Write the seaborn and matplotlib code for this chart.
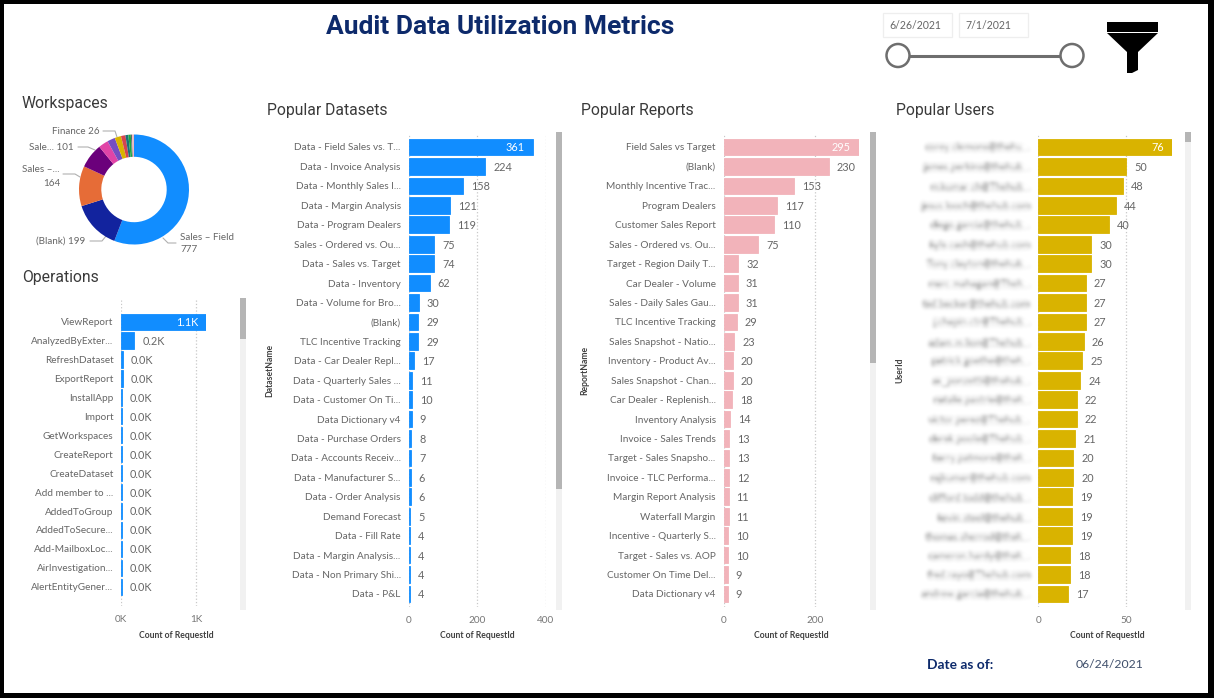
import numpy as np
import pandas as pd
import seaborn as sns
import matplotlib
matplotlib.use("Agg")
import matplotlib.pyplot as plt
from matplotlib.patches import Rectangle, Circle, Polygon

# ---- data ----
workspace_names = ["Sales – Field", "(Blank)", "Sales –...", "Sale...", "Pink", "Violet", "Finance",
                   "Red", "Teal", "Green", "Slate", "Blush"]
workspace_counts = [777, 199, 164, 101, 40, 32, 26, 18, 12, 10, 5, 8]
workspace_colors = ["#118DFF", "#12239E", "#E66C37", "#6B007B", "#E044A7", "#744EC2", "#D9B300",
                    "#D64550", "#197278", "#1AAB40", "#5F6B6D", "#F2B8BE"]

operation_names = ["ViewReport", "AnalyzedByExter...", "RefreshDataset", "ExportReport", "InstallApp",
                   "Import", "GetWorkspaces", "CreateReport", "CreateDataset", "Add member to ...",
                   "AddedToGroup", "AddedToSecure...", "Add-MailboxLoc...", "AirInvestigation...",
                   "AlertEntityGener..."]
operation_counts = [1133, 177, 20, 20, 8, 8, 8, 8, 8, 8, 8, 8, 8, 8, 8]

dataset_names = ["Data - Field Sales vs. T...", "Data - Invoice Analysis", "Data - Monthly Sales I...",
                 "Data - Margin Analysis", "Data - Program Dealers", "Sales - Ordered vs. Ou...",
                 "Data - Sales vs. Target", "Data - Inventory", "Data - Volume for Bro...", "(Blank)",
                 "TLC Incentive Tracking", "Data - Car Dealer Repl...", "Data - Quarterly Sales ...",
                 "Data - Customer On Ti...", "Data Dictionary v4", "Data - Purchase Orders",
                 "Data - Accounts Receiv...", "Data - Manufacturer S...", "Data - Order Analysis",
                 "Demand Forecast", "Data - Fill Rate", "Data - Margin Analysis...",
                 "Data - Non Primary Shi...", "Data - P&L"]
dataset_counts = [361, 224, 158, 121, 119, 75, 74, 62, 30, 29, 29, 17, 11, 10, 9, 8, 7, 6, 6, 5, 4, 4, 4, 4]

report_names = ["Field Sales vs Target", "(Blank)", "Monthly Incentive Trac...", "Program Dealers",
                "Customer Sales Report", "Sales - Ordered vs. Ou...", "Target - Region Daily T...",
                "Car Dealer - Volume", "Sales - Daily Sales Gau...", "TLC Incentive Tracking",
                "Sales Snapshot - Natio...", "Inventory - Product Av...", "Sales Snapshot - Chan...",
                "Car Dealer - Replenish...", "Inventory Analysis", "Invoice - Sales Trends",
                "Target - Sales Snapsho...", "Invoice - TLC Performa...", "Margin Report Analysis",
                "Waterfall Margin", "Incentive - Quarterly S...", "Target - Sales vs. AOP",
                "Customer On Time Del...", "Data Dictionary v4"]
report_counts = [295, 230, 153, 117, 110, 75, 32, 31, 31, 29, 23, 20, 20, 18, 14, 13, 13, 12, 11, 11, 10, 10, 9, 9]

user_names = ["corey.clemons@thehu...", "james.perkins@thehub...", "m.kumar.ch@Thehub...",
              "jesus.looch@thehub.com", "diego.garcia@thehub...", "kyle.cash@thehub.com",
              "Tony.clayton@thehub...", "marc.mahagan@Theh...", "ted.becker@thehub.com",
              "j.chapin.ctr@Thehub...", "adam.m.lion@Thehub...", "patrick.goethe@theh...",
              "ax_ponzetti@thehub...", "natalie.pastrie@theh...", "victor.perez@Thehub...",
              "derek.poole@Thehub...", "barry.patmore@theh...", "rajkumar@thehub.com",
              "clifford.todd@thehub...", "kevin.steel@thehub...", "thomas.sherrod@theh...",
              "cameron.hardy@theh...", "fred.rayo@Thehub.com", "andrew.garcia@thehub..."]
user_counts = [76, 50, 48, 44, 40, 30, 30, 27, 27, 27, 26, 25, 24, 22, 22, 21, 20, 20, 19, 19, 19, 18, 18, 17]

W, H = 1214, 698
BODY = "Lato"
HEAD = "Roboto"
NAVY = "#0D2A6B"
LABEL = "#666666"

sns.set_theme(style="white")
plt.rcParams["font.family"] = [BODY, "DejaVu Sans"]

fig = plt.figure(figsize=(W / 100, H / 100), dpi=100, facecolor="black")

# Full-page canvas in pixel units for the report furniture
page = fig.add_axes([0, 0, 1, 1], zorder=0)
page.set_xlim(0, W)
page.set_ylim(H, 0)
page.axis("off")
page.add_patch(Rectangle((4, 4), 1204, 689, fc="white", ec="none"))


def soft_focus(image, dpi, sigma=2.0):
    """Gaussian blur used to obscure user addresses."""
    pad = 8
    out = np.pad(image, ((pad, pad), (pad, pad), (0, 0)))
    x = np.arange(-pad, pad + 1)
    kernel = np.exp(-x ** 2 / (2 * sigma ** 2))
    kernel /= kernel.sum()
    for axis in (0, 1):
        out = np.apply_along_axis(lambda v: np.convolve(v, kernel, mode="same"), axis, out)
    return out, -pad, -pad


def hbar_panel(names, counts, color, x0, px_per_unit, xmax, ticks, fmt, axis_name,
               first_center=147.0, pitch=19.43, top=135, bottom=607, blur=False):
    width = xmax * px_per_unit
    ax = fig.add_axes([x0 / W, 1 - bottom / H, width / W, (bottom - top) / H], zorder=2)
    ax.patch.set_alpha(0)
    frame = pd.DataFrame({"name": names, "count": counts})
    sns.barplot(data=frame, y="name", x="count", color=color, saturation=1, width=0.86,
                orient="h", edgecolor=color, linewidth=0.6, ax=ax)
    ax.set_xlim(0, xmax)
    ax.set_ylim((bottom - first_center) / pitch, (top - first_center) / pitch)
    ax.set_xticks(ticks)
    ax.set_xticklabels([fmt(t) for t in ticks])
    ax.grid(axis="x", linestyle=":", color="#C8C8C8", linewidth=0.9)
    ax.set_axisbelow(True)
    sns.despine(ax=ax, left=True, bottom=True)
    ax.tick_params(axis="y", length=0, pad=5.6, labelsize=7.2, labelcolor=LABEL)
    ax.tick_params(axis="x", length=0, pad=6.5, labelsize=7.2, labelcolor="#777777")
    ax.set_xlabel("")
    ax.set_ylabel("")
    for i, value in enumerate(counts):
        text = fmt(value) if fmt is kilo else str(value)
        if i == 0:
            ax.annotate(text, (value, i), xytext=(-5.8, -0.7), textcoords="offset points",
                        ha="right", va="center", color="white", fontsize=7.8)
        else:
            ax.annotate(text, (value, i), xytext=(5.8, -0.7), textcoords="offset points",
                        ha="left", va="center", color=LABEL, fontsize=7.8, annotation_clip=False)
    if blur:
        for label in ax.get_yticklabels():
            label.set_agg_filter(soft_focus)
            label.set_color("#4A4A4A")
    page.text(x0 + axis_name[1], 635, "Count of RequestId", ha="center", va="center",
              fontsize=6.2, color="#404040", fontweight="bold")
    if axis_name[0]:
        page.text(axis_name[2], 370, axis_name[0], rotation=90, ha="center", va="center",
                  fontsize=6.2, color="#404040", fontweight="bold")
    return ax


def kilo(v):
    return f"{v / 1000:.1f}K"


def plain(v):
    return str(v)


# Operations uses K formatting on both axis and labels
ops = hbar_panel(operation_names, operation_counts, "#118DFF", 121.2, 0.075, 1133, [0, 1000], kilo,
                 ("", 55, 0), first_center=321.7, pitch=18.93, top=298, bottom=606)
ops.set_xticklabels(["0K", "1K"])

hbar_panel(dataset_names, dataset_counts, "#118DFF", 408.5, 0.3435, 400, [0, 200, 400], plain,
           ("DatasetName", 69, 270))
hbar_panel(report_names, report_counts, "#F2B3BA", 723.5, 0.4585, 295, [0, 200], plain,
           ("ReportName", 68, 585))
hbar_panel(user_names, user_counts, "#D9B300", 1038.2, 1.76, 76, [0, 50], plain,
           ("UserId", 69, 900), blur=True)

# Workspaces donut
cx, cy, outer, inner = 134, 189.5, 55, 32.7
donut = fig.add_axes([(cx - outer) / W, 1 - (cy + outer) / H, 2 * outer / W, 2 * outer / H], zorder=2)
donut.pie(workspace_counts, colors=workspace_colors, startangle=90, counterclock=False, radius=1,
          wedgeprops=dict(width=1 - inner / outer, edgecolor="none"))
donut.set_xlim(-1, 1)
donut.set_ylim(-1, 1)

leaders = [
    ([163, 168, 176], [238, 243, 243]),
    ([90, 102, 106], [241, 241, 236]),
    ([63, 75, 80], [174, 174, 177]),
    ([78, 88, 95], [147, 147, 150]),
    ([103, 115, 117], [131, 131, 137]),
]
for xs, ys in leaders:
    page.plot(xs, ys, color="#B0B0B0", lw=0.8)

donut_font = dict(fontsize=7.1, color=LABEL, va="center")
page.text(180, 237, workspace_names[0], ha="left", **donut_font)
page.text(180, 250, str(workspace_counts[0]), ha="left", **donut_font)
page.text(85, 241.5, f"{workspace_names[1]} {workspace_counts[1]}", ha="right", **donut_font)
page.text(22, 169, workspace_names[2], ha="left", **donut_font)
page.text(52, 183, str(workspace_counts[2]), ha="center", **donut_font)
page.text(74, 147, f"{workspace_names[3]} {workspace_counts[3]}", ha="right", **donut_font)
page.text(100, 132, f"{workspace_names[6]} {workspace_counts[6]}", ha="right", **donut_font)

# Headings
page.text(500, 27, "Audit Data Utilization Metrics", ha="center", va="center",
          fontsize=19, fontweight="bold", color=NAVY, family=HEAD)
for x, y, title in [(22, 103.5, "Workspaces"), (22, 277.5, "Operations"), (267, 110.5, "Popular Datasets"),
                    (581, 110.5, "Popular Reports"), (896, 110.5, "Popular Users")]:
    page.text(x, y, title, ha="left", va="center", fontsize=11.3, color="#3A3A3A", family=HEAD)

# Scrollbars: pale track with a darker thumb
for x, t, thumb_end, track_end in [(240, 298, 339, 610), (556, 132, 489, 610),
                                   (870, 132, 363, 610), (1185, 132, 142, 610)]:
    page.add_patch(Rectangle((x, t), 6, track_end - t, fc="#F1F1F1", ec="none"))
    page.add_patch(Rectangle((x, t), 6, thumb_end - t, fc="#B5B5B5", ec="none"))

# Date range slicer
for x0, x1, stamp in [(883, 952, "6/26/2021"), (959, 1028, "7/1/2021")]:
    page.add_patch(Rectangle((x0, 13), x1 - x0, 24, fc="white", ec="#EEEEEE", lw=0.9))
    page.text(x0 + 6, 25.5, stamp, ha="left", va="center", fontsize=7.6, color=LABEL)
page.plot([898, 1072], [55.5, 55.5], color="#6E6E6E", lw=2.2, zorder=3)
for x in (898, 1072):
    page.add_patch(Circle((x, 55.5), 11.5, fc="white", ec="#6E6E6E", lw=1.8, zorder=4))

# Funnel icon
page.add_patch(Rectangle((1107, 22), 51, 10, fc="black", ec="none"))
page.add_patch(Polygon([(1107, 33), (1158, 33), (1138, 52), (1138, 70), (1132, 73),
                        (1127, 73), (1127, 52)], closed=True, fc="black", ec="none"))

# Data freshness footer
page.text(927, 665, "Date as of:", ha="left", va="center", fontsize=9.9, fontweight="bold", color=NAVY)
page.text(1076, 664, "06/24/2021", ha="left", va="center", fontsize=8.8, color="#3F4F6B")

fig.savefig("out.png", dpi=100, facecolor=fig.get_facecolor())
